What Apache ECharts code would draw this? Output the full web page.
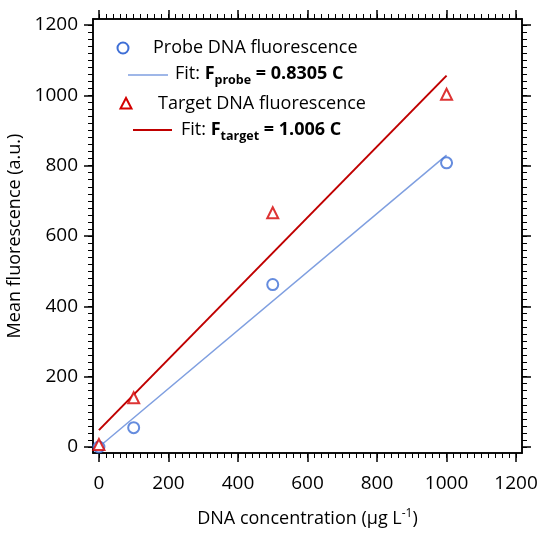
<!DOCTYPE html>
<html>
<head>
<meta charset="utf-8">
<script src="https://cdn.jsdelivr.net/npm/echarts@6/dist/echarts.min.js"></script>
<style>
html,body{margin:0;padding:0;background:#fff;}
#chart{width:550px;height:537px;}
</style>
</head>
<body>
<div id="chart"></div>
<script>
// ---- data ----
const concentrations = [0, 100, 500, 1000];
const probeValues = [0, 55, 462, 808];
const targetValues = [7, 140, 666, 1003];
const fitX = [0, 1000];
const probeFitY = [0, 830];
const targetFitY = [48, 1056];
const majorTicks = [0, 200, 400, 600, 800, 1000, 1200];
const minorTicks = [];
for (let v = 0; v <= 1200; v += 20) minorTicks.push(v);

const FONT = 'Open Sans';
const chart = echarts.init(document.getElementById('chart'));

function pair(xs, ys) { return xs.map((x, i) => [x, ys[i]]); }

const AX_MIN = -17, AX_MAX = 1217;
function axisSet(dir) {
  const bottomOrLeft = dir === 'x' ? 'bottom' : 'left';
  const topOrRight = dir === 'x' ? 'top' : 'right';
  const base = {
    type: 'value', min: AX_MIN, max: AX_MAX,
    splitLine: { show: false }
  };
  const lineStyle = { color: '#000', width: 1.5 };
  const hiddenLabels = (vals) => ({ show: true, customValues: vals, interval: 0, formatter: () => '', color: 'rgba(0,0,0,0)', fontSize: 1 });
  return [
    Object.assign({}, base, {
      position: bottomOrLeft,
      axisLine: { show: true, onZero: false, lineStyle },
      axisTick: { show: true, customValues: majorTicks, interval: 0, length: 9, lineStyle: { color: '#000', width: 1.5 } },
      axisLabel: { show: true, customValues: majorTicks, interval: 0, formatter: v => String(v), fontSize: 19, fontFamily: FONT, color: '#000', margin: dir === 'x' ? 21 : 15 }
    }),
    Object.assign({}, base, {
      position: bottomOrLeft,
      axisLine: { show: true, onZero: false, lineStyle },
      axisTick: { show: true, customValues: minorTicks, interval: 0, length: 5, lineStyle: { color: '#000', width: 1 } },
      axisLabel: hiddenLabels(minorTicks)
    }),
    Object.assign({}, base, {
      position: topOrRight,
      axisLine: { show: true, onZero: false, lineStyle },
      axisTick: { show: true, customValues: majorTicks, interval: 0, length: 9, lineStyle: { color: '#000', width: 1.5 } },
      axisLabel: hiddenLabels(majorTicks)
    }),
    Object.assign({}, base, {
      position: topOrRight,
      axisLine: { show: true, onZero: false, lineStyle },
      axisTick: { show: true, customValues: minorTicks, interval: 0, length: 5, lineStyle: { color: '#000', width: 1 } },
      axisLabel: hiddenLabels(minorTicks)
    })
  ];
}

const xAxes = axisSet('x');
xAxes[0].name = 'DNA concentration (µg L{sup|-1})';
xAxes[0].nameLocation = 'middle';
xAxes[0].nameGap = 55;
xAxes[0].nameTextStyle = {
  fontSize: 18, fontFamily: FONT, color: '#000',
  rich: { sup: { fontSize: 12, fontFamily: FONT, color: '#000', padding: [0, 0, 10, 0] } }
};
const yAxes = axisSet('y');
yAxes[0].name = 'Mean fluorescence (a.u.)';
yAxes[0].nameLocation = 'middle';
yAxes[0].nameGap = 66;
yAxes[0].nameTextStyle = { fontSize: 18, fontFamily: FONT, color: '#000' };

const BLUE = '#3f6fd6';
const BLUE_LINE = '#7f9fe0';
const RED = '#d40000';
const RED_LINE = '#c00000';

const legendRich = {
  n: { fontSize: 18, fontFamily: FONT, color: '#000' },
  b: { fontSize: 18, fontFamily: FONT, color: '#000', fontWeight: 'bold' },
  s: { fontSize: 12.5, fontFamily: FONT, color: '#000', fontWeight: 'bold', padding: [12, 0, 0, 0] }
};

chart.setOption({
  animation: false,
  backgroundColor: '#fff',
  grid: { left: 93, right: 28, top: 19, bottom: 84, containLabel: false, outerBoundsMode: 'none' },
  xAxis: xAxes,
  yAxis: yAxes,
  series: [
    { type: 'line', data: pair(fitX, probeFitY), symbol: 'none', lineStyle: { color: BLUE_LINE, width: 1.5 }, z: 2 },
    { type: 'line', data: pair(fitX, targetFitY), symbol: 'none', lineStyle: { color: RED_LINE, width: 2 }, z: 2 },
    { type: 'scatter', data: pair(concentrations, probeValues), symbol: 'emptyCircle', symbolSize: 11,
      itemStyle: { color: BLUE, borderColor: BLUE, borderWidth: 2 }, z: 3 },
    { type: 'scatter', data: pair(concentrations, targetValues), symbol: 'emptyTriangle', symbolSize: 11,
      itemStyle: { color: RED, borderColor: RED, borderWidth: 2 }, z: 3 }
  ],
  graphic: [
    { type: 'circle', shape: { cx: 123, cy: 48, r: 5.5 }, style: { fill: 'none', stroke: BLUE, lineWidth: 2 } },
    { type: 'text', left: 153, top: 39, style: { text: 'Probe DNA fluorescence', font: '18px "Open Sans"', fill: '#000' } },
    { type: 'line', shape: { x1: 128, y1: 75, x2: 168, y2: 75 }, style: { stroke: BLUE_LINE, lineWidth: 1.5 } },
    { type: 'text', left: 175, top: 65, style: { text: '{n|Fit: }{b|F}{s|probe}{b| = 0.8305 C}', rich: legendRich } },
    { type: 'polygon', shape: { points: [[126, 98], [120.5, 108.5], [131.5, 108.5]] }, style: { fill: 'none', stroke: RED, lineWidth: 2 } },
    { type: 'text', left: 158, top: 95, style: { text: 'Target DNA fluorescence', font: '18px "Open Sans"', fill: '#000' } },
    { type: 'line', shape: { x1: 133, y1: 130, x2: 172, y2: 130 }, style: { stroke: RED_LINE, lineWidth: 2 } },
    { type: 'text', left: 181, top: 121, style: { text: '{n|Fit: }{b|F}{s|target}{b| = 1.006 C}', rich: legendRich } }
  ]
});
</script>
</body>
</html>
